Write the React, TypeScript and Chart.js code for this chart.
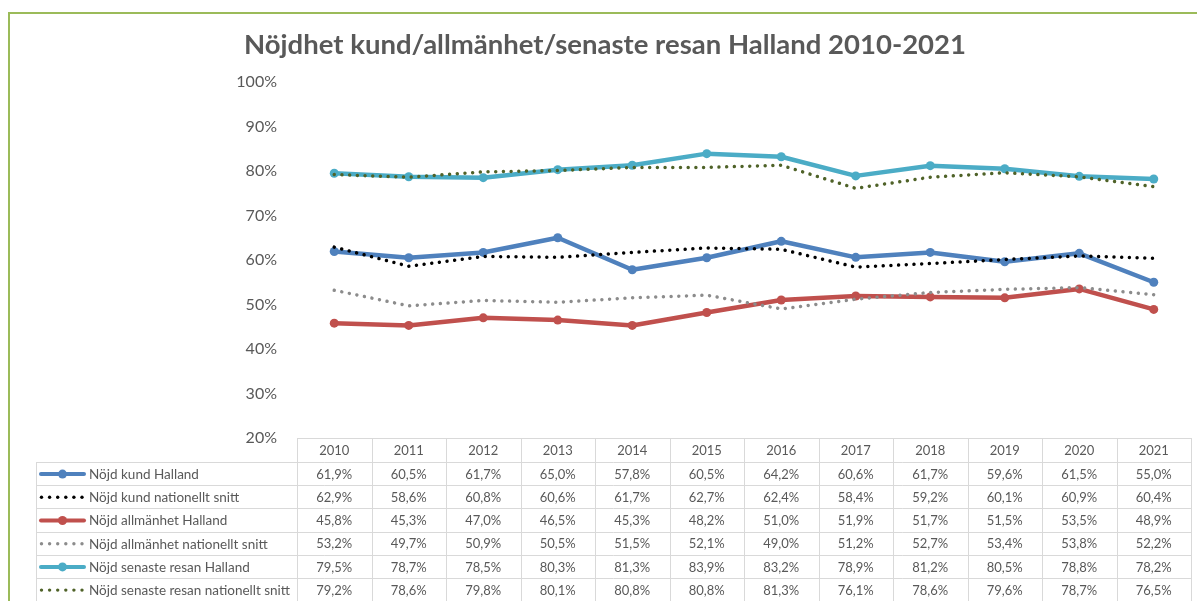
import React, { useEffect, useRef } from "react";
import { Chart, registerables } from "chart.js";
Chart.register(...registerables);

const titleText = "Nöjdhet kund/allmänhet/senaste resan Halland 2010-2021";
const years = ["2010", "2011", "2012", "2013", "2014", "2015", "2016", "2017", "2018", "2019", "2020", "2021"];
const kundHalland = [61.9, 60.5, 61.7, 65.0, 57.8, 60.5, 64.2, 60.6, 61.7, 59.6, 61.5, 55.0];
const kundNationellt = [62.9, 58.6, 60.8, 60.6, 61.7, 62.7, 62.4, 58.4, 59.2, 60.1, 60.9, 60.4];
const allmanhetHalland = [45.8, 45.3, 47.0, 46.5, 45.3, 48.2, 51.0, 51.9, 51.7, 51.5, 53.5, 48.9];
const allmanhetNationellt = [53.2, 49.7, 50.9, 50.5, 51.5, 52.1, 49.0, 51.2, 52.7, 53.4, 53.8, 52.2];
const resanHalland = [79.5, 78.7, 78.5, 80.3, 81.3, 83.9, 83.2, 78.9, 81.2, 80.5, 78.8, 78.2];
const resanNationellt = [79.2, 78.6, 79.8, 80.1, 80.8, 80.8, 81.3, 76.1, 78.6, 79.6, 78.7, 76.5];
const seriesNames = [
  "Nöjd kund Halland",
  "Nöjd kund nationellt snitt",
  "Nöjd allmänhet Halland",
  "Nöjd allmänhet nationellt snitt",
  "Nöjd senaste resan Halland",
  "Nöjd senaste resan nationellt snitt",
];
const yMin = 20;
const yMax = 100;
const yStep = 10;

const FONT = "Lato, 'Noto Sans', sans-serif";
const TEXT = "#595959";

type Series = { name: string; data: number[]; color: string; dotted: boolean };
const series: Series[] = [
  { name: seriesNames[0], data: kundHalland, color: "#4f81bd", dotted: false },
  { name: seriesNames[1], data: kundNationellt, color: "#000000", dotted: true },
  { name: seriesNames[2], data: allmanhetHalland, color: "#c0504d", dotted: false },
  { name: seriesNames[3], data: allmanhetNationellt, color: "#8c8c8c", dotted: true },
  { name: seriesNames[4], data: resanHalland, color: "#4bacc6", dotted: false },
  { name: seriesNames[5], data: resanNationellt, color: "#4f6228", dotted: true },
];

const fmt = (v: number) => v.toFixed(1).replace(".", ",") + "%";

const framePlugin = {
  id: "frame",
  beforeDraw(chart: any) {
    const ctx = chart.ctx;
    ctx.save();
    ctx.fillStyle = "#ffffff";
    ctx.fillRect(0, 0, chart.width, chart.height);
    ctx.fillStyle = "#9bbb59";
    ctx.fillRect(8, 12, chart.width - 8, 2);
    ctx.fillRect(8, 12, 2, chart.height - 12);
    ctx.restore();
  },
};

const tablePlugin = {
  id: "dataTable",
  afterDraw(chart: any) {
    const ctx = chart.ctx;
    const area = chart.chartArea;
    const xs = chart.scales.x;
    const n = years.length;
    const colW = (area.right - area.left) / n;
    const headTop = area.bottom;
    const headBot = headTop + 24;
    const rowH = 23.2;
    const legLeft = 36;
    const tableBottom = headBot + rowH * series.length;
    ctx.save();
    ctx.strokeStyle = "#d9d9d9";
    ctx.lineWidth = 1;
    ctx.beginPath();
    ctx.moveTo(area.left, Math.round(headTop) + 0.5);
    ctx.lineTo(area.right, Math.round(headTop) + 0.5);
    for (let r = 0; r <= series.length; r++) {
      const y = Math.round(headBot + r * rowH) + 0.5;
      ctx.moveTo(legLeft, y);
      ctx.lineTo(area.right, y);
    }
    ctx.moveTo(legLeft + 0.5, headBot);
    ctx.lineTo(legLeft + 0.5, tableBottom);
    for (let c = 0; c <= n; c++) {
      const x = Math.round(area.left + c * colW) + 0.5;
      ctx.moveTo(x, headTop);
      ctx.lineTo(x, tableBottom);
    }
    ctx.stroke();

    ctx.fillStyle = TEXT;
    ctx.font = `13px ${FONT}`;
    ctx.textAlign = "center";
    ctx.textBaseline = "middle";
    years.forEach((yr, i) => {
      ctx.fillText(yr, xs.getPixelForValue(i), (headTop + headBot) / 2 + 1);
    });
    series.forEach((s, r) => {
      const cy = headBot + r * rowH + rowH / 2 + 0.5;
      ctx.textAlign = "center";
      ctx.fillStyle = TEXT;
      ctx.font = `13px ${FONT}`;
      s.data.forEach((v, i) => {
        ctx.fillText(fmt(v), xs.getPixelForValue(i), cy + 0.5);
      });
      if (s.dotted) {
        ctx.fillStyle = s.color;
        for (let k = 0; k < 6; k++) {
          ctx.beginPath();
          ctx.arc(41.5 + k * 8.1, cy, 1.7, 0, Math.PI * 2);
          ctx.fill();
        }
      } else {
        ctx.strokeStyle = s.color;
        ctx.lineWidth = 4;
        ctx.lineCap = "round";
        ctx.beginPath();
        ctx.moveTo(41, cy);
        ctx.lineTo(84, cy);
        ctx.stroke();
        ctx.fillStyle = s.color;
        ctx.beginPath();
        ctx.arc(62.5, cy, 4.5, 0, Math.PI * 2);
        ctx.fill();
      }
      ctx.fillStyle = TEXT;
      ctx.textAlign = "left";
      ctx.font = `13.5px ${FONT}`;
      ctx.fillText(s.name, 89, cy + 0.5);
    });
    ctx.restore();
  },
};

export default function App() {
  const ref = useRef<HTMLCanvasElement | null>(null);
  useEffect(() => {
    if (!ref.current) return;
    const chart = new Chart(ref.current, {
      type: "line",
      data: {
        labels: years,
        datasets: series.map((s) => ({
          label: s.name,
          data: s.data,
          borderColor: s.color,
          backgroundColor: s.color,
          borderWidth: s.dotted ? 3.5 : 4.5,
          borderDash: s.dotted ? [0.001, 7.7] : [],
          borderCapStyle: "round",
          borderJoinStyle: "round",
          pointRadius: s.dotted ? 0 : 4.5,
          pointBorderWidth: 0,
          pointBackgroundColor: s.color,
          tension: 0,
          order: s.dotted ? 0 : 1,
        })) as any,
      },
      options: {
        responsive: false,
        animation: false,
        layout: { padding: { left: 19, right: 6, top: 13, bottom: 163 } },
        plugins: {
          legend: { display: false },
          tooltip: { enabled: false },
          title: {
            display: true,
            text: titleText,
            color: TEXT,
            font: { family: FONT, size: 27.5, weight: "bold" },
            padding: { top: 16, bottom: 20 },
          },
        },
        scales: {
          x: { type: "category", display: false, offset: true },
          y: {
            min: yMin,
            max: yMax,
            grid: { display: false, drawTicks: false },
            border: { display: false },
            ticks: {
              stepSize: yStep,
              padding: 20,
              color: TEXT,
              font: { family: FONT, size: 16 },
              callback: (v: any) => `${v}%`,
            },
            afterFit: (scale: any) => {
              scale.width = 278;
            },
          },
        },
      },
      plugins: [framePlugin, tablePlugin],
    });
    return () => chart.destroy();
  }, []);
  return (
    <div style={{ position: "fixed", left: 0, top: 0, width: 1197, height: 601, background: "#fff" }}>
      <canvas ref={ref} width={1197} height={601} style={{ display: "block", width: 1197, height: 601 }} />
    </div>
  );
}
